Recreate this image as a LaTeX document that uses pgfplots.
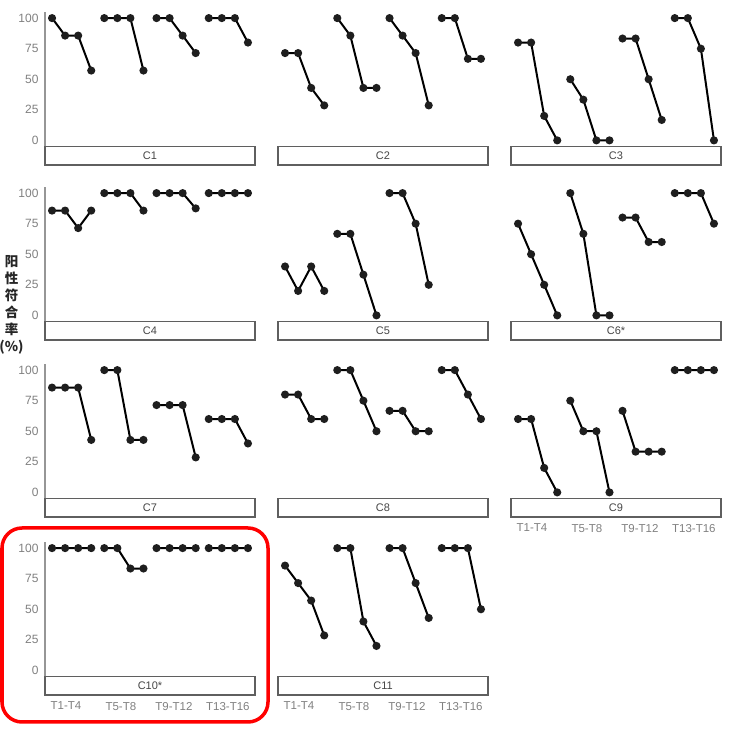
\documentclass[border=0pt]{standalone}
\usepackage{fontspec}
\setmainfont{Liberation Sans}
\newfontfamily\cjk{Noto Sans CJK SC}
\usepackage{pgfplots}
\pgfplotsset{compat=1.18}

\definecolor{tickgray}{RGB}{128,128,128}
\definecolor{axisgray}{RGB}{150,150,150}
\definecolor{stripgray}{RGB}{95,95,95}
\definecolor{striptext}{RGB}{70,70,70}
\definecolor{stroke}{RGB}{30,30,30}
\definecolor{hilite}{RGB}{255,0,0}

\pgfplotsset{
  panel/.style={
    scale only axis, width=210pt, height=134.5pt,
    xmin=0.46, xmax=16.54, ymin=-5, ymax=105,
    axis lines*=left,
    x axis line style={draw=none},
    y axis line style={draw=none},
    xtick=\empty, ytick=\empty,
    major tick length=0pt,
    tick style={draw=none},
    clip=false,
    unbounded coords=jump,
    anchor=north west,
    /pgf/number format/assume math mode=true,
    ticklabel style={font=\fontsize{12}{14}\selectfont, text=tickgray},
  },
  leftcol/.style={
    y axis line style={draw=axisgray, line width=1.2pt},
    ytick={0,25,50,75,100},
    yticklabel style={xshift=-3pt},
  },
  bottomrow/.style={
    xtick={2.07,6.27,10.33,14.46},
    xticklabels={T1-T4,T5-T8,T9-T12,T13-T16},
    xticklabel style={yshift=-22pt, font=\fontsize{11.5}{13}\selectfont},
  },
  series/.style={stroke, line width=2pt, mark=*, mark size=3pt,
    mark options={fill=stroke, draw=stroke, solid}},
}

% facet strip under each panel (18.5pt tall on a 134.5pt panel)
\newcommand\strip[1]{%
  \draw[stripgray, line width=1.2pt, fill=white] (axis description cs:0,0) rectangle (axis description cs:1,-0.1375);
  \node[text=striptext, font=\fontsize{11}{13}\selectfont] at (axis description cs:0.5,-0.0688) {#1};}

\begin{document}
\begin{tikzpicture}
\path[use as bounding box] (0,0) rectangle (735pt,736pt);

% ---- row 1 ----
\begin{axis}[panel, leftcol, at={(45pt,724pt)}]
\addplot[series] coordinates {(1,100)(2,85.7)(3,85.7)(4,57.1)(4.5,nan)(5,100)(6,100)(7,100)(8,57.1)(8.5,nan)(9,100)(10,100)(11,85.7)(12,71.4)(12.5,nan)(13,100)(14,100)(15,100)(16,80)};
\strip{C1}
\end{axis}
\begin{axis}[panel, at={(278pt,724pt)}]
\addplot[series] coordinates {(1,71.4)(2,71.4)(3,42.9)(4,28.6)(4.5,nan)(5,100)(6,85.7)(7,42.9)(8,42.9)(8.5,nan)(9,100)(10,85.7)(11,71.4)(12,28.6)(12.5,nan)(13,100)(14,100)(15,66.7)(16,66.7)};
\strip{C2}
\end{axis}
\begin{axis}[panel, at={(511pt,724pt)}]
\addplot[series] coordinates {(1,80)(2,80)(3,20)(4,0)(4.5,nan)(5,50)(6,33.3)(7,0)(8,0)(8.5,nan)(9,83.3)(10,83.3)(11,50)(12,16.7)(12.5,nan)(13,100)(14,100)(15,75)(16,0)};
\strip{C3}
\end{axis}

% ---- row 2 ----
\begin{axis}[panel, leftcol, at={(45pt,549pt)}]
\addplot[series] coordinates {(1,85.7)(2,85.7)(3,71.4)(4,85.7)(4.5,nan)(5,100)(6,100)(7,100)(8,85.7)(8.5,nan)(9,100)(10,100)(11,100)(12,87.5)(12.5,nan)(13,100)(14,100)(15,100)(16,100)};
\strip{C4}
\end{axis}
\begin{axis}[panel, at={(278pt,549pt)}]
\addplot[series] coordinates {(1,40)(2,20)(3,40)(4,20)(4.5,nan)(5,66.7)(6,66.7)(7,33.3)(8,0)(8.5,nan)(9,100)(10,100)(11,75)(12,25)};
\strip{C5}
\end{axis}
\begin{axis}[panel, at={(511pt,549pt)}]
\addplot[series] coordinates {(1,75)(2,50)(3,25)(4,0)(4.5,nan)(5,100)(6,66.7)(7,0)(8,0)(8.5,nan)(9,80)(10,80)(11,60)(12,60)(12.5,nan)(13,100)(14,100)(15,100)(16,75)};
\strip{C6*}
\end{axis}

% ---- row 3 ----
\begin{axis}[panel, leftcol, at={(45pt,372pt)}]
\addplot[series] coordinates {(1,85.7)(2,85.7)(3,85.7)(4,42.9)(4.5,nan)(5,100)(6,100)(7,42.9)(8,42.9)(8.5,nan)(9,71.4)(10,71.4)(11,71.4)(12,28.6)(12.5,nan)(13,60)(14,60)(15,60)(16,40)};
\strip{C7}
\end{axis}
\begin{axis}[panel, at={(278pt,372pt)}]
\addplot[series] coordinates {(1,80)(2,80)(3,60)(4,60)(4.5,nan)(5,100)(6,100)(7,75)(8,50)(8.5,nan)(9,66.7)(10,66.7)(11,50)(12,50)(12.5,nan)(13,100)(14,100)(15,80)(16,60)};
\strip{C8}
\end{axis}
\begin{axis}[panel, bottomrow, at={(511pt,372pt)}]
\addplot[series] coordinates {(1,60)(2,60)(3,20)(4,0)(4.5,nan)(5,75)(6,50)(7,50)(8,0)(8.5,nan)(9,66.7)(10,33.3)(11,33.3)(12,33.3)(12.5,nan)(13,100)(14,100)(15,100)(16,100)};
\strip{C9}
\end{axis}

% ---- row 4 ----
\begin{axis}[panel, leftcol, bottomrow, at={(45pt,194pt)}]
\addplot[series] coordinates {(1,100)(2,100)(3,100)(4,100)(4.5,nan)(5,100)(6,100)(7,83.3)(8,83.3)(8.5,nan)(9,100)(10,100)(11,100)(12,100)(12.5,nan)(13,100)(14,100)(15,100)(16,100)};
\strip{C10*}
\end{axis}
\begin{axis}[panel, bottomrow, at={(278pt,194pt)}]
\addplot[series] coordinates {(1,85.7)(2,71.4)(3,57.1)(4,28.6)(4.5,nan)(5,100)(6,100)(7,40)(8,20)(8.5,nan)(9,100)(10,100)(11,71.4)(12,42.9)(12.5,nan)(13,100)(14,100)(15,100)(16,50)};
\strip{C11}
\end{axis}

% shared y-axis title
\node[font=\fontsize{13.5}{17}\selectfont\cjk\bfseries, align=center, text=black!85, inner sep=0pt] at (11.5pt,431pt)
  {阳\\性\\符\\合\\率\\(\%)};

% highlight frame
\draw[hilite, line width=3.5pt, rounded corners=20pt] (2pt,14pt) rectangle (268pt,208pt);
\end{tikzpicture}
\end{document}
